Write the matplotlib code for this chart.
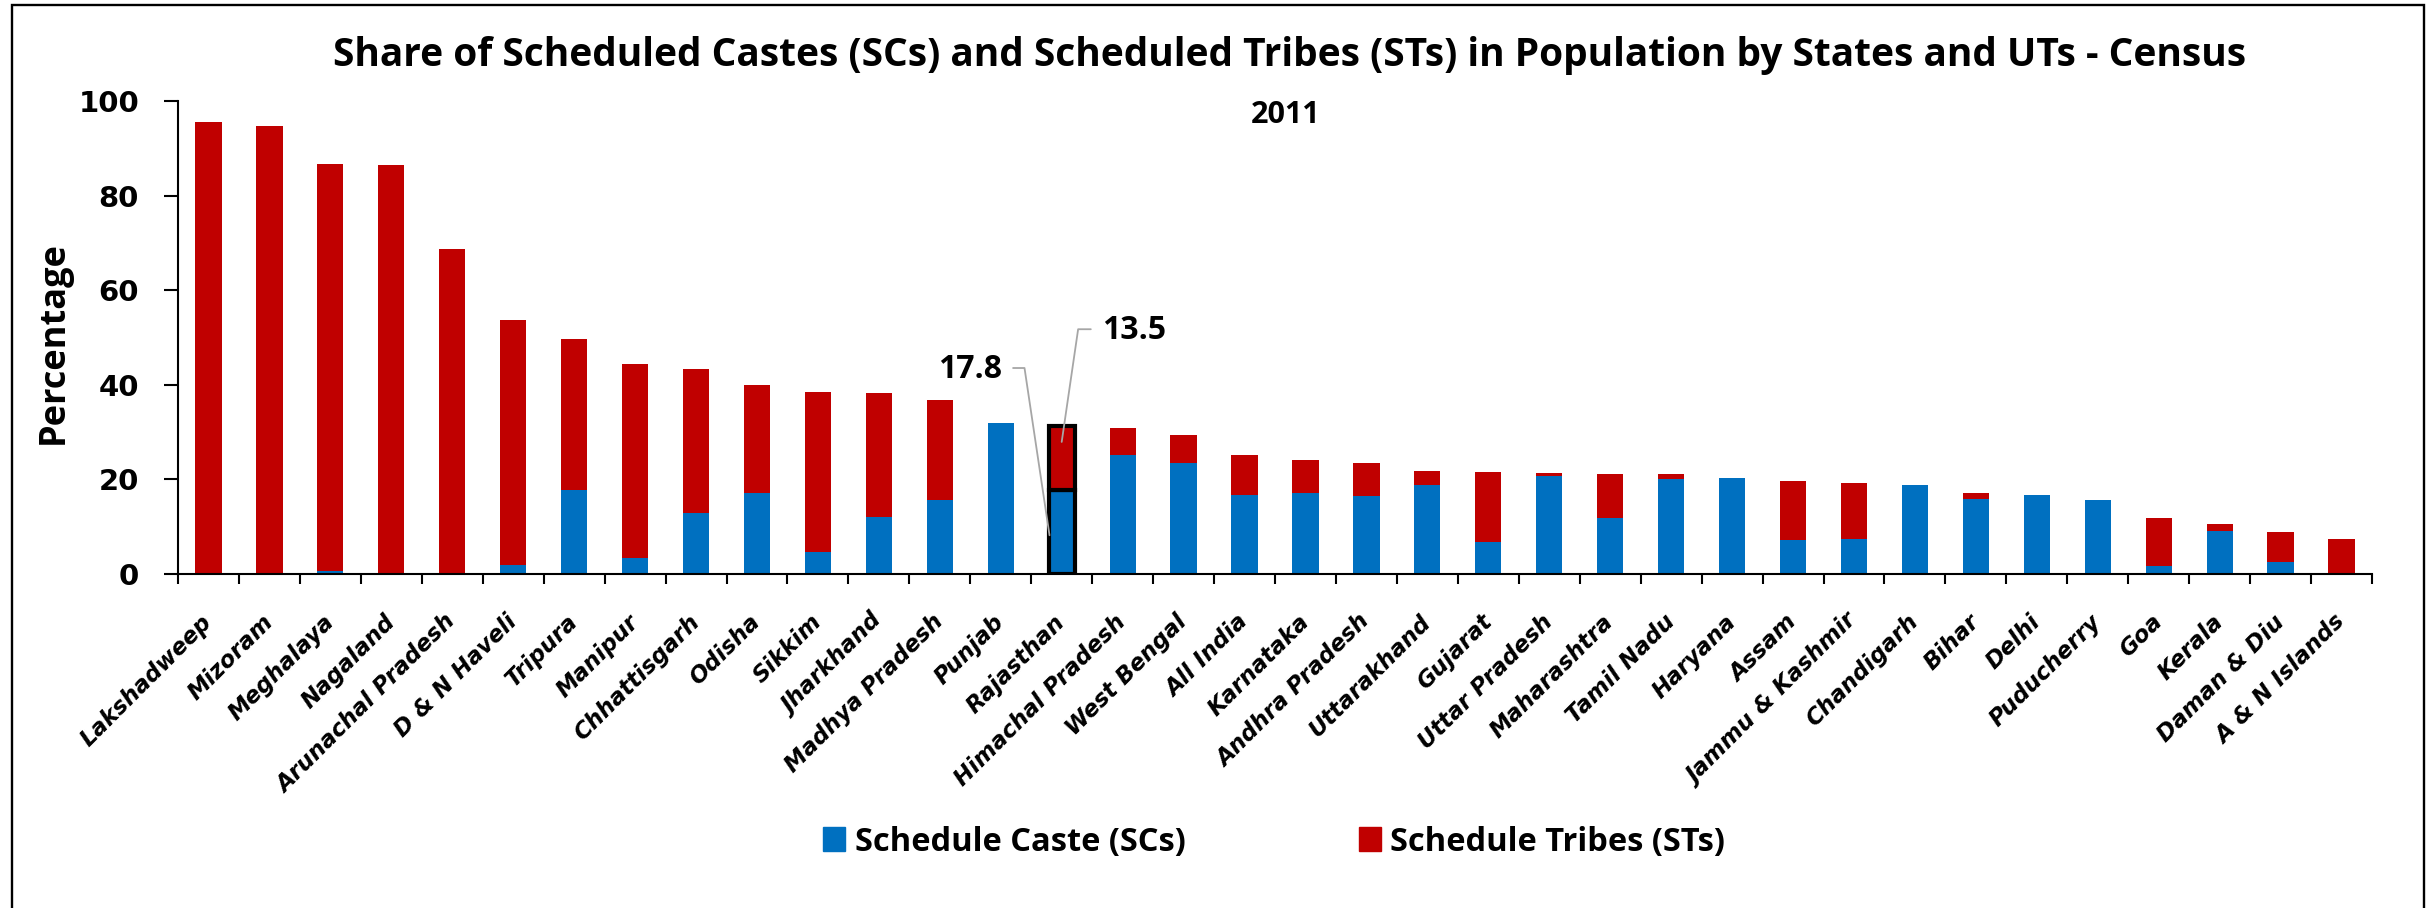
import numpy as np
import matplotlib
matplotlib.use('Agg')
import matplotlib.pyplot as plt
from matplotlib.patches import Patch, Rectangle

# Census 2011, share of SCs and STs in population (%)
states = ['Lakshadweep', 'Mizoram', 'Meghalaya', 'Nagaland', 'Arunachal Pradesh',
          'D & N Haveli', 'Tripura', 'Manipur', 'Chhattisgarh', 'Odisha', 'Sikkim',
          'Jharkhand', 'Madhya Pradesh', 'Punjab', 'Rajasthan', 'Himachal Pradesh',
          'West Bengal', 'All India', 'Karnataka', 'Andhra Pradesh', 'Uttarakhand',
          'Gujarat', 'Uttar Pradesh', 'Maharashtra', 'Tamil Nadu', 'Haryana', 'Assam',
          'Jammu & Kashmir', 'Chandigarh', 'Bihar', 'Delhi', 'Puducherry', 'Goa',
          'Kerala', 'Daman & Diu', 'A & N Islands']
sc_share = [0.0, 0.1, 0.6, 0.0, 0.0, 1.8, 17.8, 3.4, 12.8, 17.1, 4.6, 12.1, 15.6,
            31.9, 17.8, 25.2, 23.5, 16.6, 17.1, 16.4, 18.8, 6.7, 20.7, 11.8, 20.0,
            20.2, 7.2, 7.4, 18.9, 15.9, 16.8, 15.7, 1.7, 9.1, 2.5, 0.0]
st_share = [95.5, 94.6, 86.1, 86.5, 68.8, 52.0, 31.8, 41.0, 30.6, 22.8, 33.8, 26.2,
            21.1, 0.0, 13.5, 5.7, 5.8, 8.6, 7.0, 7.0, 2.9, 14.8, 0.6, 9.4, 1.1,
            0.0, 12.4, 11.9, 0.0, 1.3, 0.0, 0.0, 10.2, 1.5, 6.3, 7.5]
highlight = 'Rajasthan'

yticks = [0, 20, 40, 60, 80, 100]

title_font = 'Open Sans'
tick_font = 'DejaVu Sans'
sc_color = '#0070C0'
st_color = '#C00000'

W, H = 2433, 908
fig = plt.figure(figsize=(W / 100, H / 100), dpi=100)
ax = fig.add_axes([178 / W, 1 - 574 / H, (2372 - 178) / W, (574 - 101) / H])

x = np.arange(len(states))
sc = np.array(sc_share)
st = np.array(st_share)
width = 0.43
ax.bar(x, sc, width, color=sc_color, zorder=2)
ax.bar(x, st, width, bottom=sc, color=st_color, zorder=2)

# highlighted state gets a thick black outline + labels
hi = states.index(highlight)
ax.bar(hi, sc[hi], width, color=sc_color, edgecolor='black', linewidth=3, zorder=3)
ax.bar(hi, st[hi], width, bottom=sc[hi], color=st_color, edgecolor='black',
       linewidth=3, zorder=3)

ax.annotate('{:.1f}'.format(sc[hi]), xy=(hi - 0.2, sc[hi] * 0.46),
            xytext=(hi - 0.98, 43.2), ha='right', va='center',
            fontsize=23, fontweight='bold', family=title_font,
            arrowprops=dict(arrowstyle='-', color='#a6a6a6', lw=1.3, relpos=(1, 0.55),
                            shrinkA=6, shrinkB=0,
                            connectionstyle='angle,angleA=0,angleB=98.5,rad=0'))
ax.annotate('{:.1f}'.format(st[hi]), xy=(hi, sc[hi] + st[hi] * 0.75),
            xytext=(hi + 0.66, 51.4), ha='left', va='center',
            fontsize=23, fontweight='bold', family=title_font,
            arrowprops=dict(arrowstyle='-', color='#a6a6a6', lw=1.3, relpos=(0, 0.55),
                            shrinkA=6, shrinkB=0,
                            connectionstyle='angle,angleA=0,angleB=81.7,rad=0'))

ax.set_xlim(-0.5, len(states) - 0.5)
ax.set_ylim(0, 100)
ax.set_yticks(yticks)
ax.set_yticklabels([str(v) for v in yticks], fontsize=21, fontweight='bold',
                   family=tick_font)
ax.tick_params(axis='y', direction='out', length=10, width=1.5, pad=18)

ax.set_xticks(x)
ax.set_xticklabels(states, fontsize=16.5, fontweight='bold', style='oblique',
                   family=tick_font)
ax.set_xticks(np.arange(len(states) + 1) - 0.5, minor=True)
ax.tick_params(axis='x', which='major', length=0, pad=32)
ax.tick_params(axis='x', which='minor', direction='out', length=7, width=1.5)
plt.setp(ax.get_xticklabels(), rotation=45, ha='right', va='center',
         rotation_mode='anchor')

for side in ['top', 'right']:
    ax.spines[side].set_visible(False)
for side in ['left', 'bottom']:
    ax.spines[side].set_linewidth(1.5)

fig.text(54 / W, 1 - 343 / H, 'Percentage', rotation=90, ha='center', va='center',
         fontsize=26, fontweight='bold', family=title_font)
fig.text(1290 / W, 1 - 66 / H,
         'Share of Scheduled Castes (SCs) and Scheduled Tribes (STs) in Population '
         'by States and UTs - Census',
         ha='center', va='baseline', fontsize=28, fontweight='bold', family=title_font)
fig.text(1286 / W, 1 - 123 / H, '2011', ha='center', va='baseline', fontsize=22,
         fontweight='bold', family=title_font)

handles = [Patch(color=sc_color), Patch(color=st_color)]
fig.legend(handles, ['Schedule Caste (SCs)', 'Schedule Tribes (STs)'],
           loc='center left', bbox_to_anchor=(794 / W, 1 - 842 / H), ncol=2,
           frameon=False, handlelength=0.67, handleheight=0.74, handletextpad=0.3,
           columnspacing=5.3, prop=dict(family=title_font, weight='bold', size=23.5))

# outer frame
fig.patches.append(Rectangle((12 / W, -0.02), (2424 - 12) / W, 1.02 - 5 / H,
                             transform=fig.transFigure, fill=False, edgecolor='black',
                             linewidth=1.7))

fig.savefig('out.png', dpi=100)
